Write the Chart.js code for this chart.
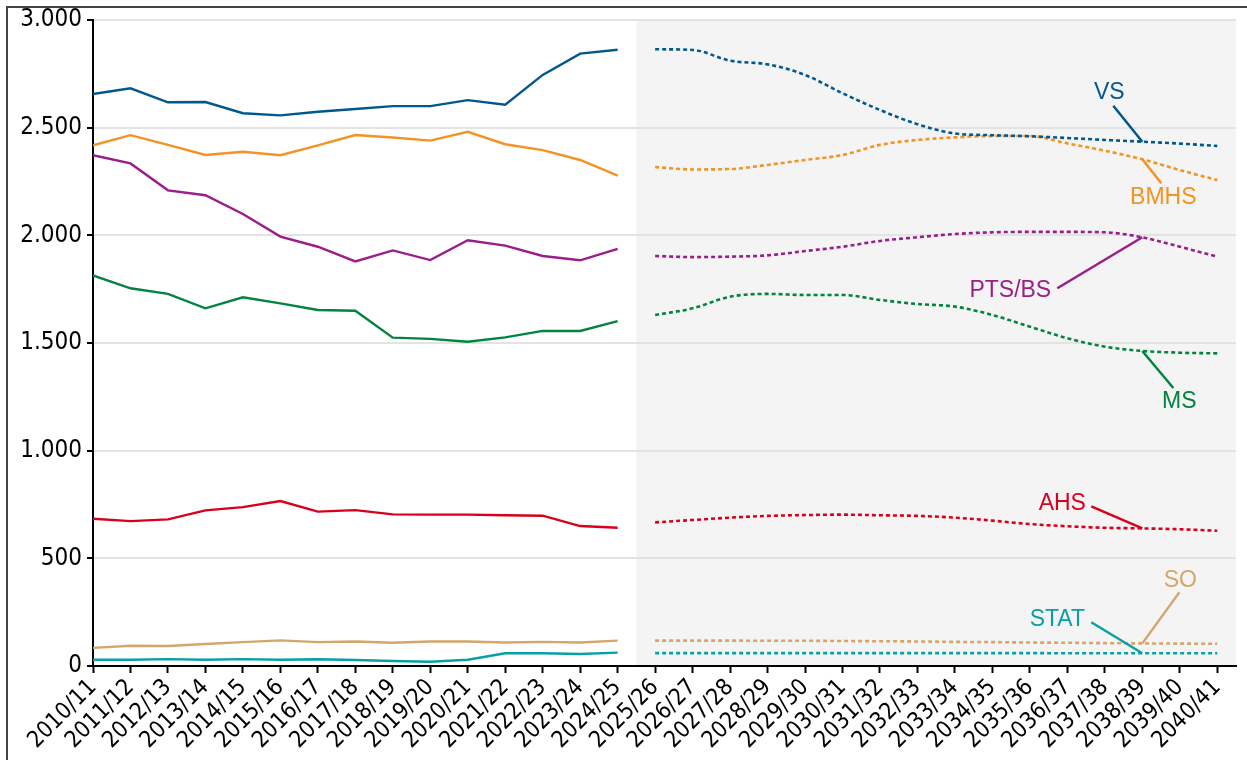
<!DOCTYPE html>
<html>
<head>
<meta charset="utf-8">
<script src="https://cdn.jsdelivr.net/npm/chart.js@4"></script>
<style>
  body { margin: 0; background: #fff; }
  #wrap { position: relative; width: 1247px; height: 760px; }
  #frame { position: absolute; left: 6px; top: 6px; right: 0; bottom: 0; border-top: 2px solid #444; border-left: 2px solid #444; pointer-events: none; }
</style>
</head>
<body>
<div id="wrap">
  <canvas id="chart" width="1247" height="760"></canvas>
  <div id="frame"></div>
</div>
<script>
const years = ['2010/11','2011/12','2012/13','2013/14','2014/15','2015/16','2016/17','2017/18','2018/19','2019/20',
  '2020/21','2021/22','2022/23','2023/24','2024/25','2025/26','2026/27','2027/28','2028/29','2029/30','2030/31',
  '2031/32','2032/33','2033/34','2034/35','2035/36','2036/37','2037/38','2038/39','2039/40','2040/41'];

// actual values 2010/11 - 2024/25
const vsHist   = [2656, 2683, 2618, 2619, 2567, 2557, 2574, 2587, 2600, 2600, 2628, 2607, 2745, 2844, 2862];
const bmhsHist = [2418, 2465, 2420, 2373, 2388, 2372, 2418, 2466, 2454, 2440, 2481, 2423, 2396, 2350, 2277];
const ptsHist  = [2372, 2334, 2209, 2186, 2099, 1994, 1947, 1879, 1930, 1885, 1977, 1952, 1904, 1884, 1937];
const msHist   = [1814, 1754, 1728, 1661, 1712, 1684, 1653, 1650, 1525, 1519, 1506, 1526, 1556, 1556, 1602];
const ahsHist  = [684, 673, 681, 723, 738, 766, 717, 724, 704, 703, 703, 700, 698, 650, 642];
const soHist   = [84, 94, 93, 102, 111, 119, 111, 114, 108, 114, 114, 109, 112, 109, 118];
const statHist = [29, 29, 32, 29, 32, 29, 31, 28, 23, 20, 29, 59, 59, 56, 62];

// forecast 2025/26 - 2040/41
const vsFc   = [2864, 2861, 2811, 2794, 2745, 2660, 2582, 2516, 2473, 2465, 2460, 2452, 2443, 2435, 2426, 2415];
const bmhsFc = [2317, 2306, 2308, 2327, 2350, 2373, 2420, 2443, 2455, 2461, 2461, 2427, 2393, 2353, 2303, 2257];
const ptsFc  = [1904, 1899, 1901, 1907, 1927, 1947, 1974, 1991, 2006, 2014, 2016, 2016, 2014, 1991, 1947, 1901];
const msFc   = [1630, 1661, 1715, 1728, 1723, 1723, 1700, 1681, 1669, 1630, 1576, 1522, 1483, 1463, 1455, 1452];
const ahsFc  = [667, 678, 689, 697, 701, 703, 700, 697, 689, 675, 659, 649, 642, 639, 635, 628];
const soFc   = [118, 118, 118, 117, 117, 116, 115, 114, 112, 111, 109, 108, 106, 105, 104, 103];
const statFc = [60, 60, 60, 60, 60, 60, 60, 60, 60, 60, 60, 59, 59, 59, 59, 59];

const yTickLabels = {0: '0', 500: '500', 1000: '1.000', 1500: '1.500', 2000: '2.000', 2500: '2.500', 3000: '3.000'};

const seriesNames = ['VS', 'BMHS', 'PTS/BS', 'MS', 'AHS', 'SO', 'STAT'];
const hist = [vsHist, bmhsHist, ptsHist, msHist, ahsHist, soHist, statHist];
const fc = [vsFc, bmhsFc, ptsFc, msFc, ahsFc, soFc, statFc];
const colors = ['#00588f', '#f39323', '#9a1d8a', '#00843f', '#d9001b', '#d4a66c', '#08a0a7'];

const firstFc = vsHist.length; // index of 2025/26

// label placement relative to the 2038/39 forecast point
const labelIdx = 13;
const labelPos = [
  { dx: -33, dy: -49, lx: -29, ly: -36 },
  { dx: 21, dy: 38, lx: 19, ly: 24 },
  { dx: -132, dy: 53, lx: -85, ly: 51 },
  { dx: 37, dy: 51, lx: 31, ly: 37 },
  { dx: -80, dy: -25, lx: -51, ly: -22 },
  { dx: 38, dy: -63, lx: 37, ly: -51 },
  { dx: -85, dy: -34, lx: -51, ly: -31 }
];

const datasets = [];
seriesNames.forEach((name, s) => {
  datasets.push({
    label: name,
    data: hist[s].map((v, i) => ({ x: i, y: v })),
    borderColor: colors[s],
    borderWidth: 2.4,
    pointRadius: 0,
    tension: 0
  });
  datasets.push({
    label: name + ' Prognose',
    data: fc[s].map((v, i) => ({ x: firstFc + i, y: v })),
    borderColor: colors[s],
    borderWidth: 2.6,
    borderDash: [4, 3],
    pointRadius: 0,
    cubicInterpolationMode: 'monotone'
  });
});

const extras = {
  id: 'extras',
  beforeDraw(chart) {
    const { ctx, chartArea, scales } = chart;
    const x0 = scales.x.getPixelForValue(firstFc - 0.5);
    ctx.save();
    ctx.fillStyle = '#f4f4f4';
    ctx.fillRect(x0, chartArea.top, chartArea.right - x0, chartArea.bottom - chartArea.top);
    ctx.restore();
  },
  afterDatasetsDraw(chart) {
    const { ctx, scales } = chart;
    ctx.save();
    ctx.font = '23px "Liberation Sans", Arial, sans-serif';
    ctx.textAlign = 'center';
    ctx.textBaseline = 'middle';
    seriesNames.forEach((name, s) => {
      const p = labelPos[s];
      const ax = scales.x.getPixelForValue(firstFc + labelIdx);
      const ay = scales.y.getPixelForValue(fc[s][labelIdx]);
      ctx.strokeStyle = colors[s];
      ctx.lineWidth = 2.5;
      ctx.beginPath();
      ctx.moveTo(ax + p.lx, ay + p.ly);
      ctx.lineTo(ax, ay);
      ctx.stroke();
      ctx.fillStyle = colors[s];
      ctx.fillText(name, ax + p.dx, ay + p.dy);
    });
    ctx.restore();
  }
};

new Chart(document.getElementById('chart'), {
  type: 'line',
  data: { datasets },
  options: {
    responsive: false,
    animation: false,
    devicePixelRatio: 1,
    layout: { padding: { top: 20, right: 11, left: 0, bottom: 0 } },
    plugins: { legend: { display: false }, tooltip: { enabled: false } },
    scales: {
      x: {
        type: 'linear',
        min: 0,
        max: 30.5,
        afterBuildTicks(scale) {
          scale.ticks = years.map((_, i) => ({ value: i }));
        },
        afterFit(scale) { scale.height = 94; },
        ticks: {
          color: '#000',
          font: { family: '"DejaVu Sans Condensed", "DejaVu Sans", sans-serif', size: 23 },
          minRotation: 45,
          maxRotation: 45,
          padding: 1,
          autoSkip: false,
          callback: (v) => years[v]
        },
        grid: { drawOnChartArea: false, tickColor: '#000', tickLength: 7, tickWidth: 2 },
        border: { color: '#000', width: 2 }
      },
      y: {
        min: 0,
        max: 3000,
        afterFit(scale) { scale.width = 93; },
        ticks: {
          stepSize: 500,
          color: '#000',
          font: { family: '"DejaVu Sans Condensed", "DejaVu Sans", sans-serif', size: 24 },
          padding: 5,
          callback: (v) => yTickLabels[v]
        },
        grid: { color: '#e3e3e3', lineWidth: 2, tickColor: '#000', tickLength: 6, tickWidth: 2 },
        border: { color: '#000', width: 2 }
      }
    }
  },
  plugins: [extras]
});
</script>
</body>
</html>
